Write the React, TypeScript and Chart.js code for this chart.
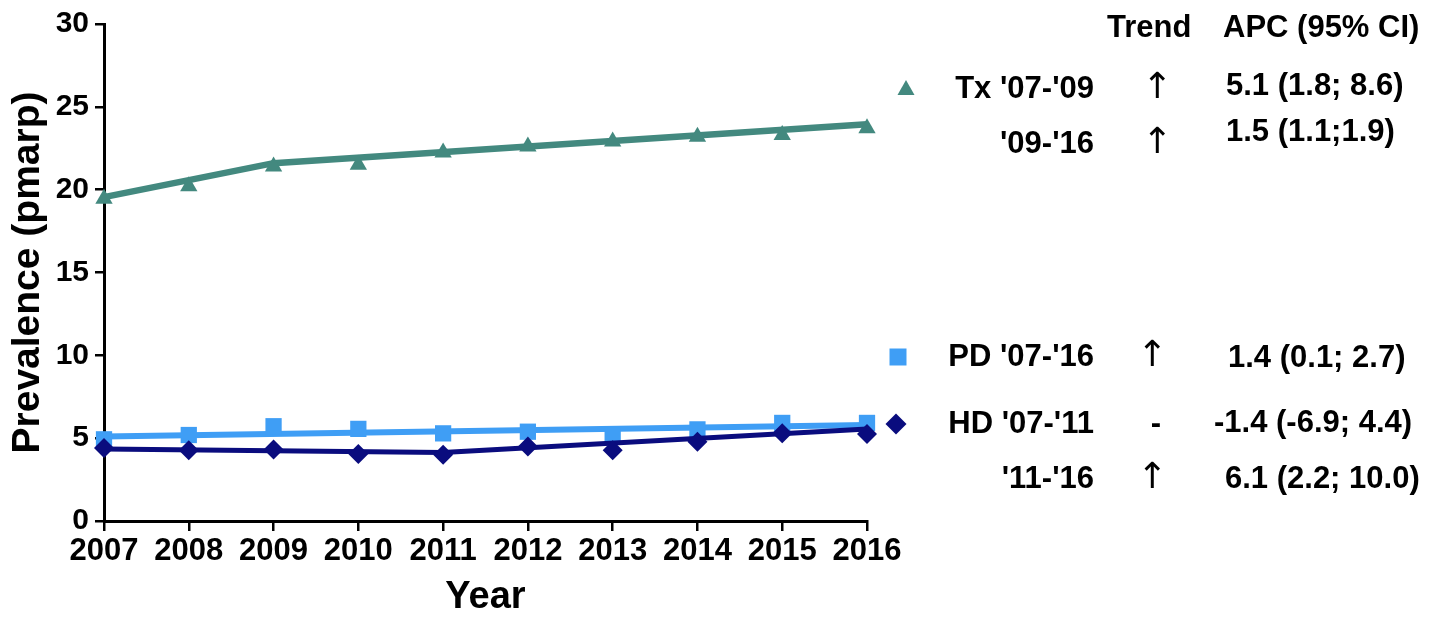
import { useEffect, useRef } from 'react';
import { Chart, registerables } from 'chart.js';

Chart.register(...registerables);

// Observed prevalence per year (pmarp)
const years = [2007, 2008, 2009, 2010, 2011, 2012, 2013, 2014, 2015, 2016];
const txObserved = [19.45, 20.2, 21.4, 21.5, 22.25, 22.6, 22.9, 23.2, 23.3, 23.7];
const pdObserved = [4.93, 5.19, 5.72, 5.56, 5.29, 5.39, 5.13, 5.53, 5.92, 5.92];
const hdObserved = [4.4, 4.27, 4.31, 4.04, 4.0, 4.49, 4.27, 4.79, 5.29, 5.25];

// Joinpoint regression fits: values at the segment ends
const txJoinYears = [2007, 2009, 2016];
const txJoinFit = [19.55, 21.6, 23.95];
const pdJoinYears = [2007, 2016];
const pdJoinFit = [5.1, 5.8];
const hdJoinYears = [2007, 2011, 2016];
const hdJoinFit = [4.35, 4.13, 5.55];

const yTicks = [0, 5, 10, 15, 20, 25, 30];

// Trend table beside the plot
const tableHeaders = ['Trend', 'APC (95% CI)'];
const trendLabels = ["Tx '07-'09", "'09-'16", "PD '07-'16", "HD '07-'11", "'11-'16"];
const trendDirections = ['\u2191', '\u2191', '\u2191', '-', '\u2191'];
const trendApc = ['5.1 (1.8; 8.6)', '1.5 (1.1;1.9)', '1.4 (0.1; 2.7)', '-1.4 (-6.9; 4.4)', '6.1 (2.2; 10.0)'];
const trendSeries = ['Tx', '', 'PD', 'HD', ''];

const COLORS: Record<string, string> = { Tx: '#43897f', PD: '#3f9ef5', HD: '#0a0c7e' };
const MARKERS: Record<string, string> = { Tx: 'triangle', PD: 'rect', HD: 'rectRot' };

const FONT = '"Liberation Sans", Arial, Helvetica, sans-serif';

const toXY = (xs: number[], ys: number[]) => xs.map((x, i) => ({ x, y: ys[i] }));

function drawMarker(ctx: CanvasRenderingContext2D, kind: string, x: number, y: number, color: string) {
  ctx.beginPath();
  ctx.fillStyle = color;
  if (kind === 'triangle') {
    ctx.moveTo(x, y - 9);
    ctx.lineTo(x + 8.5, y + 6);
    ctx.lineTo(x - 8.5, y + 6);
  } else if (kind === 'rect') {
    ctx.rect(x - 8.5, y - 8.5, 17, 17);
  } else {
    ctx.moveTo(x, y - 10.5);
    ctx.lineTo(x + 10.5, y);
    ctx.lineTo(x, y + 10.5);
    ctx.lineTo(x - 10.5, y);
  }
  ctx.closePath();
  ctx.fill();
}

// Row layout of the trend table (pixel positions on the canvas)
const rowLabelY = [89, 144, 357, 424, 479];
const rowApcY = [86, 132, 358, 423, 479];
const rowArrowX = [1157, 1157, 1152, 1156, 1152];
const rowApcX = [1226, 1226, 1228, 1214, 1225];
const rowMarkerX = [906, 0, 898, 896, 0];

const trendTablePlugin = {
  id: 'trendTable',
  afterDraw(chart: Chart) {
    const ctx = chart.ctx;
    ctx.save();
    ctx.fillStyle = '#000';
    ctx.textBaseline = 'middle';
    ctx.font = `bold 31px ${FONT}`;
    ctx.textAlign = 'left';
    ctx.fillText(tableHeaders[0], 1107, 28);
    ctx.fillText(tableHeaders[1], 1223, 28);

    trendLabels.forEach((label, i) => {
      ctx.fillStyle = '#000';
      ctx.font = `bold 31px ${FONT}`;
      ctx.textAlign = 'right';
      ctx.fillText(label, 1094, rowLabelY[i]);
      ctx.textAlign = 'left';
      ctx.fillText(trendApc[i], rowApcX[i], rowApcY[i]);
      ctx.textAlign = 'center';
      if (trendDirections[i] === '-') {
        ctx.fillText(trendDirections[i], rowArrowX[i], rowLabelY[i]);
      } else {
        ctx.font = `36px "DejaVu Sans", ${FONT}`;
        ctx.fillText(trendDirections[i], rowArrowX[i], rowLabelY[i]);
      }
      const s = trendSeries[i];
      if (s) drawMarker(ctx, MARKERS[s], rowMarkerX[i], rowLabelY[i], COLORS[s]);
    });
    ctx.restore();
  },
};

export default function App() {
  const canvasRef = useRef<HTMLCanvasElement | null>(null);

  useEffect(() => {
    if (!canvasRef.current) return;
    const pointSet = (label: string, data: number[], radius: number, order: number) => ({
      label,
      data: toXY(years, data),
      showLine: false,
      pointStyle: MARKERS[label],
      pointRadius: radius,
      pointBorderWidth: 0,
      pointBackgroundColor: COLORS[label],
      pointBorderColor: COLORS[label],
      backgroundColor: COLORS[label],
      borderColor: COLORS[label],
      clip: false as const,
      order,
    });
    const fitSet = (label: string, xs: number[], ys: number[], width: number, order: number) => ({
      label: label + ' fit',
      data: toXY(xs, ys),
      borderColor: COLORS[label],
      borderWidth: width,
      pointRadius: 0,
      tension: 0,
      fill: false,
      clip: false as const,
      order,
    });

    const chart = new Chart(canvasRef.current, {
      type: 'line',
      data: {
        datasets: [
          pointSet('HD', hdObserved, 10, 0),
          fitSet('HD', hdJoinYears, hdJoinFit, 5, 1),
          pointSet('PD', pdObserved, 11.5, 2),
          fitSet('PD', pdJoinYears, pdJoinFit, 6, 3),
          pointSet('Tx', txObserved, 10, 4),
          fitSet('Tx', txJoinYears, txJoinFit, 6.5, 5),
        ] as any,
      },
      options: {
        responsive: false,
        animation: false,
        devicePixelRatio: 1,
        layout: { padding: { left: 0, top: 18, right: 565, bottom: 0 } },
        plugins: {
          legend: { display: false },
          tooltip: { enabled: false },
        },
        scales: {
          x: {
            type: 'linear',
            min: years[0],
            max: years[years.length - 1],
            afterFit: (scale: any) => {
              scale.height = 99;
            },
            afterBuildTicks: (scale: any) => {
              scale.ticks = years.map((v) => ({ value: v }));
            },
            ticks: {
              color: '#000',
              padding: 2,
              maxRotation: 0,
              autoSkip: false,
              font: { family: FONT, size: 31, weight: 'bold' },
              callback: (v: any) => String(v),
            },
            grid: {
              display: true,
              drawOnChartArea: false,
              drawTicks: true,
              tickLength: 10,
              color: '#000',
              lineWidth: 2.5,
            },
            border: { display: true, color: '#000', width: 3 },
            title: {
              display: true,
              text: 'Year',
              color: '#000',
              font: { family: FONT, size: 38, weight: 'bold' },
              padding: { top: 0, bottom: 0 },
            },
          },
          y: {
            type: 'linear',
            min: 0,
            max: 30,
            afterFit: (scale: any) => {
              scale.width = 104;
            },
            afterBuildTicks: (scale: any) => {
              scale.ticks = yTicks.map((v) => ({ value: v }));
            },
            ticks: {
              color: '#000',
              padding: 6,
              font: { family: FONT, size: 30, weight: 'bold' },
              callback: (v: any) => String(v),
            },
            grid: {
              display: true,
              drawOnChartArea: false,
              drawTicks: true,
              tickLength: 9,
              color: '#000',
              lineWidth: 2.5,
            },
            border: { display: true, color: '#000', width: 3 },
            title: {
              display: true,
              text: 'Prevalence (pmarp)',
              color: '#000',
              font: { family: FONT, size: 39, weight: 'bold' },
              padding: { top: 5, bottom: 0 },
            },
          },
        },
      } as any,
      plugins: [trendTablePlugin],
    });
    return () => chart.destroy();
  }, []);

  return (
    <div style={{ position: 'fixed', left: 0, top: 0, width: 1432, height: 620, background: '#fff' }}>
      <canvas ref={canvasRef} width={1432} height={620} style={{ display: 'block', width: 1432, height: 620 }} />
    </div>
  );
}
